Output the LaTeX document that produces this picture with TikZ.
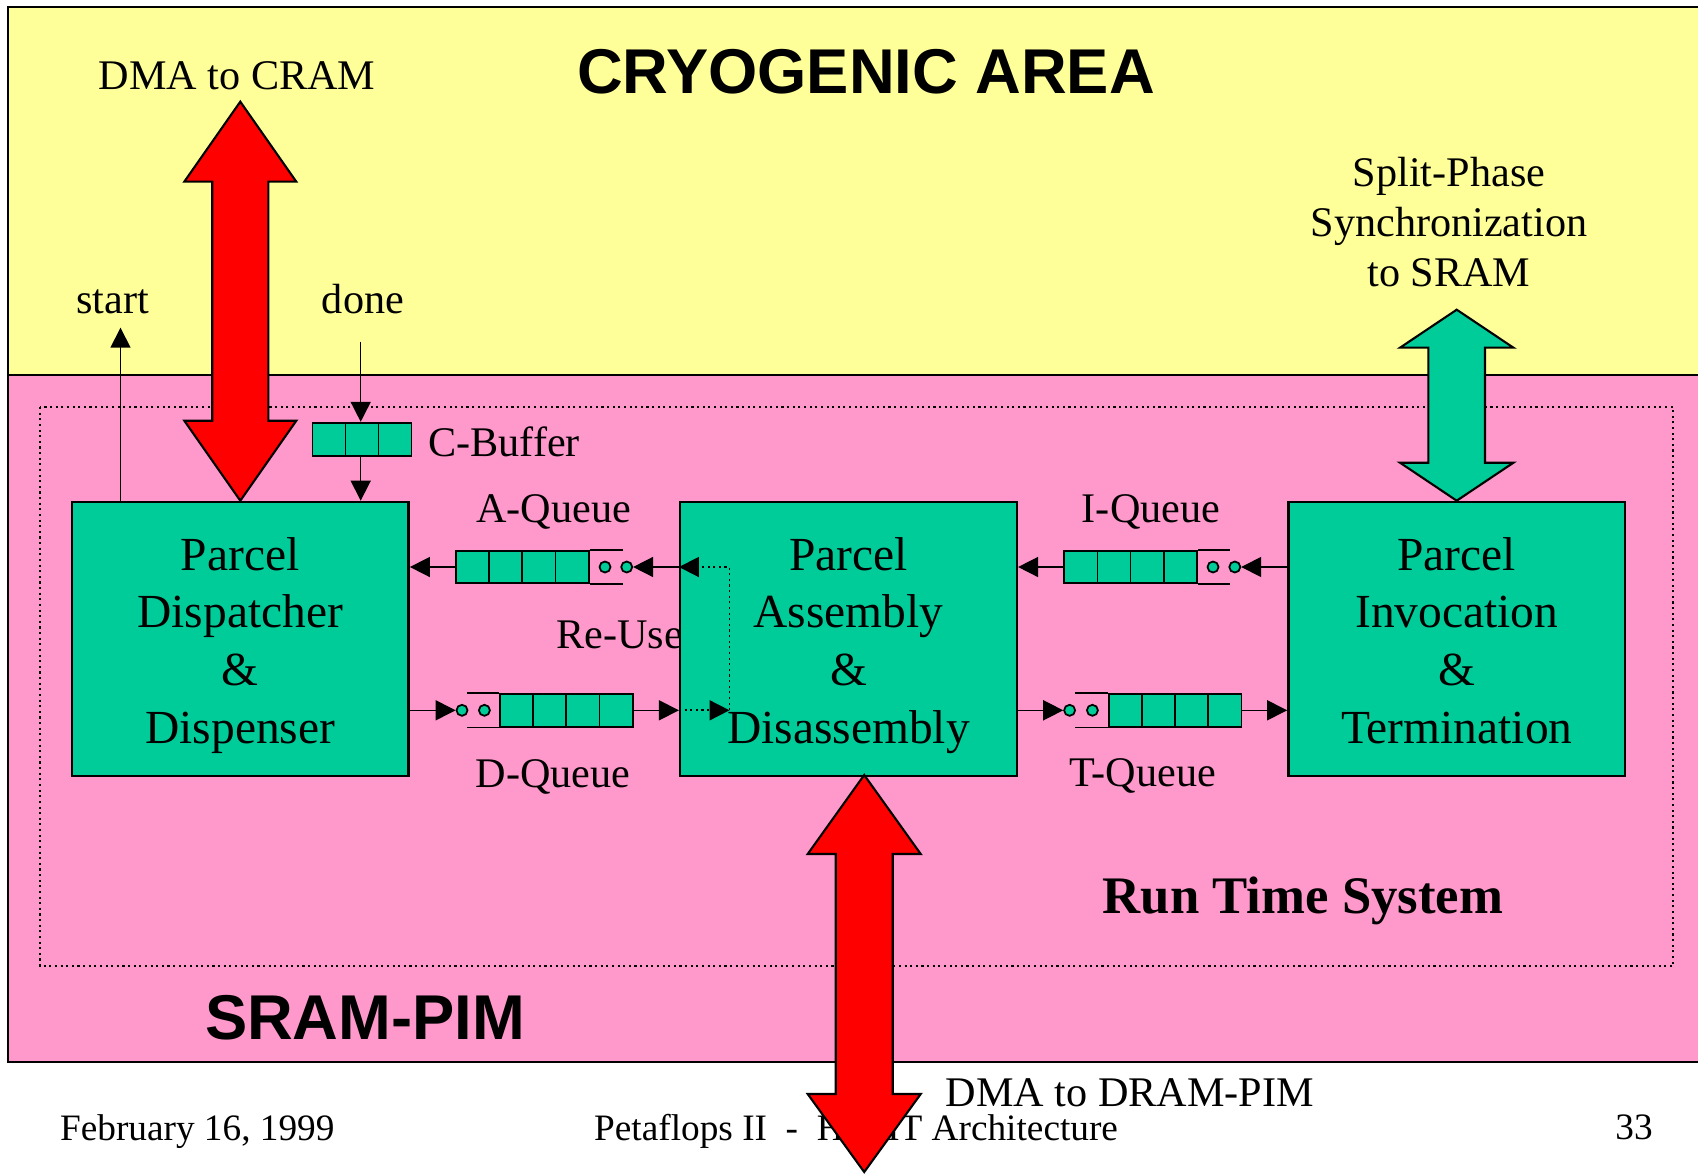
\documentclass[tikz,border=0pt]{standalone}
\usepackage{fontspec}
\setmainfont{Liberation Serif}
\newfontfamily\headfont{Liberation Sans}
\usetikzlibrary{arrows.meta,calc}

\definecolor{cryo}{HTML}{FFFF99}
\definecolor{pim}{HTML}{FF99CC}
\definecolor{unit}{HTML}{00CC99}
\definecolor{dma}{HTML}{FF0000}

% centred stack of lines whose baseline is the first line
\newcommand\stacked[1]{\begin{tabular}[t]{@{}c@{}}#1\end{tabular}}

\begin{document}
\begin{tikzpicture}[x=0.01cm,y=-0.01cm,
  >={Triangle[length=0.2cm,width=0.2cm]},
  unitbox/.style={draw,line width=0.7pt,fill=unit,minimum width=3.365cm,minimum height=2.74cm,inner sep=0},
  unittext/.style={anchor=base,inner sep=0,font=\fontsize{13.5}{16.4}\selectfont},
  lbl/.style={anchor=base,inner sep=0,font=\fontsize{12}{14.3}\selectfont},
  head/.style={anchor=base,inner sep=0,font=\headfont\bfseries\fontsize{18}{21}\selectfont},
  foot/.style={inner sep=0,font=\fontsize{10.6}{12.7}\selectfont},
  wire/.style={line width=0.45pt},
  reuse/.style={line width=0.5pt,dash pattern=on 0.6pt off 1pt},
  cell/.style={draw,line width=0.5pt,fill=unit,minimum width=0.3315cm,minimum height=0.326cm,inner sep=0},
  slot/.style={draw,line width=0.5pt,fill=unit,circle,minimum size=0.11cm,inner sep=0},
  bigarrow/.style={draw,line width=0.6pt,line join=miter}]

\useasboundingbox (0,0) rectangle (1698,1173);
\clip (0,0) rectangle (1698,1173);
\fill[white] (0,0) rectangle (1698,1173);

% the two areas
\fill[cryo] (8,7) rectangle (1710,375);
\fill[pim] (8,375) rectangle (1710,1062);
\draw[line width=0.6pt] (8,375) -- (1710,375);
\draw[line width=0.8pt] (1710,7) -- (8,7) -- (8,1062) -- (1710,1062);

% run time system boundary
\draw[reuse,line width=0.45pt] (40,407) rectangle (1673,966);

% area titles
\node[head] (cryotitle) at (866,94) {CRYOGENIC AREA};
\node[head] (pimtitle) at (365,1039) {SRAM-PIM};
\node[anchor=base west,inner sep=0,font=\bfseries\fontsize{15}{18}\selectfont] (rts) at (1102,913) {Run Time System};

% labels
\node[lbl] (cramlbl) at (237,90) {DMA to CRAM};
\node[lbl] (startlbl) at (112.5,313) {start};
\node[lbl] (donelbl) at (363,313) {done};
\node[lbl,anchor=base west] (cblbl) at (427.7,456.7) {C-Buffer};
\node[lbl] (aqlbl) at (553.8,522) {A-Queue};
\node[lbl,anchor=base west] (rulbl) at (555.8,648) {Re-Use};
\node[lbl] (dqlbl) at (553,787) {D-Queue};
\node[lbl] (iqlbl) at (1151,522) {I-Queue};
\node[lbl] (tqlbl) at (1143,786) {T-Queue};
\node[lbl] (splbl) at (1449,186) {\stacked{Split-Phase\\Synchronization\\to SRAM}};

% processing units
\node[unitbox] (pdd) at (240.3,639) {};
\node[unitbox] (pad) at (848.5,639) {};
\node[unitbox] (pit) at (1456.7,639) {};
\node[unittext] (pddtxt) at (240.3,570) {\stacked{Parcel\\Dispatcher\\\&\\Dispenser}};
\node[unittext] (padtxt) at (848.5,570) {\stacked{Parcel\\Assembly\\\&\\Disassembly}};
\node[unittext] (pittxt) at (1456.7,570) {\stacked{Parcel\\Invocation\\\&\\Termination}};

% C-Buffer
\foreach \i in {1,2,3}
  \node[cell,minimum width=0.33cm,minimum height=0.33cm] (cb\i) at ({312.5+33*(\i-0.5)},439.2) {};

% A-Queue (entry on the right)
\foreach \i in {1,...,4}
  \node[cell] (aq\i) at ({456+33.15*(\i-0.5)},567) {};
\draw[line width=0.5pt] (aq4.north east) -- ++(33.3,0) (aq4.south east) -- ++(33.3,0);
\node[slot] (aqa) at (605,567) {};
\node[slot] (aqb) at (626.7,567) {};

% I-Queue (entry on the right)
\foreach \i in {1,...,4}
  \node[cell] (iq\i) at ({1064.3+33.15*(\i-0.5)},567) {};
\draw[line width=0.5pt] (iq4.north east) -- ++(32.6,0) (iq4.south east) -- ++(32.6,0);
\node[slot] (iqa) at (1213,567) {};
\node[slot] (iqb) at (1234.8,567) {};

% D-Queue (entry on the left)
\foreach \i in {1,...,4}
  \node[cell] (dq\i) at ({500+33.15*(\i-0.5)},710.3) {};
\draw[line width=0.5pt] (dq1.north west) -- ++(-32.6,0) (dq1.south west) -- ++(-32.6,0);
\node[slot] (dqa) at (462,710.3) {};
\node[slot] (dqb) at (484.4,710.3) {};

% T-Queue (entry on the left)
\foreach \i in {1,...,4}
  \node[cell] (tq\i) at ({1108.9+33.15*(\i-0.5)},710.3) {};
\draw[line width=0.5pt] (tq1.north west) -- ++(-33.5,0) (tq1.south west) -- ++(-33.5,0);
\node[slot] (tqa) at (1069.6,710.3) {};
\node[slot] (tqb) at (1092.4,710.3) {};

% queue connections
\draw[wire,->] (pad.west |- aqb) -- (aqb.east);
\draw[wire,->] (aq1.west) -- (pdd.east |- aq1.west);
\draw[wire,->] (pdd.east |- dqa) -- (dqa.west);
\draw[wire,->] (dq4.east) -- (pad.west |- dq4.east);
\draw[wire,->] (pit.west |- iqb) -- (iqb.east);
\draw[wire,->] (iq1.west) -- (pad.east |- iq1.west);
\draw[wire,->] (pad.east |- tqa) -- (tqa.west);
\draw[wire,->] (tq4.east) -- (pit.west |- tq4.east);

% re-use path inside the assembly unit
\coordinate (rujoin) at (729.5,710.3);
\draw[reuse,->] (pad.west |- dq4.east) -- (rujoin);
\draw[reuse,->] (rujoin) |- (pad.west |- aqb);

% start / done handshake
\coordinate (starttip) at (120.5,327.7);
\draw[wire,->] (starttip |- pdd.north) -- (starttip);
\coordinate (donebeg) at (360.7,341.7);
\draw[wire,->] (donebeg) -- (donebeg |- cb2.north);
\draw[wire,->] (donebeg |- cb2.south) -- (donebeg |- pdd.north);

% split-phase synchronization arrow
\path[bigarrow,fill=unit] (pit.north) -- ++(56.7,-38) -- ++(-28.4,0) -- ++(0,-115)
  -- ++(28.4,0) -- ++(-56.7,-38) -- ++(-56.7,38) -- ++(28.3,0) -- ++(0,115)
  -- ++(-28.3,0) -- cycle;

% DMA to CRAM
\path[bigarrow,fill=dma] (pdd.north) -- ++(56,-80) -- ++(-28,0) -- ++(0,-239)
  -- ++(28,0) -- ++(-56,-80) -- ++(-56,80) -- ++(28,0) -- ++(0,239)
  -- ++(-28,0) -- cycle;

% footer
\node[foot,anchor=base west] (date) at (59.4,1140) {February 16, 1999};
\node[foot,anchor=base west] (talk) at (593.5,1140) {Petaflops II\ \ -\ \ HTMT Architecture};
\node[foot,anchor=base] (page) at (1634,1139.5) {33};
\node[lbl,anchor=base west] (dramlbl) at (945,1106) {DMA to DRAM-PIM};

% DMA to DRAM-PIM
\coordinate (dramtop) at (864.2,775);
\path[bigarrow,fill=dma] (dramtop) -- ++(56.5,79) -- ++(-28,0) -- ++(0,240)
  -- ++(28,0) -- ++(-56.5,78) -- ++(-56.5,-78) -- ++(28,0) -- ++(0,-240)
  -- ++(-28,0) -- cycle;

\end{tikzpicture}
\end{document}
